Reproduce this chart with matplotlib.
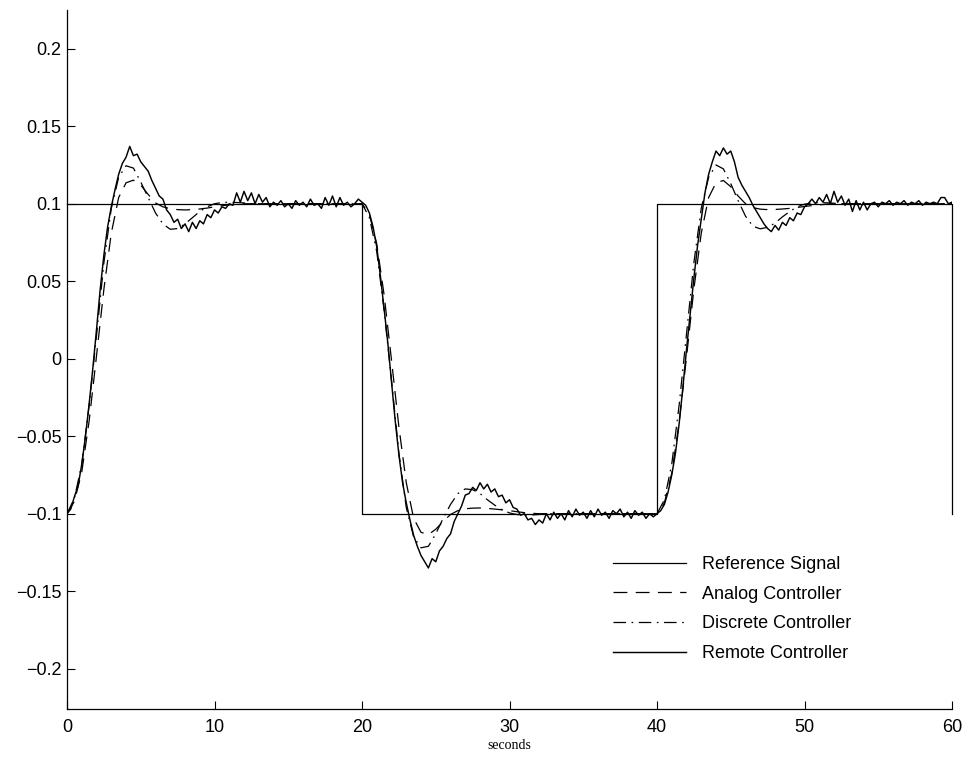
import numpy as np
import matplotlib
matplotlib.use("Agg")
import matplotlib.pyplot as plt

# Reference square wave (corner points)
REF_T = [0, 20, 20, 40, 40, 60, 60]
REF_Y = [0.1, 0.1, -0.1, -0.1, 0.1, 0.1, -0.1]

# Smooth responses, sampled every 0.5 s from each segment start (40 values per segment)
ANALOG_1 = [-0.100, -0.092, -0.073, -0.040, 0.002, 0.045, 0.081, 0.104, 0.1135, 0.1152,
            0.112, 0.106, 0.1005, 0.098, 0.0968, 0.0962, 0.0960, 0.0962, 0.0966, 0.0972,
            0.0980, 0.0987, 0.0993, 0.0997, 0.100, 0.100, 0.100, 0.100, 0.100, 0.100,
            0.100, 0.100, 0.100, 0.100, 0.100, 0.100, 0.100, 0.100, 0.100, 0.100]
ANALOG_2 = [0.100, 0.093, 0.074, 0.041, -0.001, -0.044, -0.080, -0.103, -0.112, -0.1135,
            -0.110, -0.105, -0.1005, -0.098, -0.0968, -0.0964, -0.0963, -0.0966, -0.0970, -0.0975,
            -0.0980, -0.0987, -0.0993, -0.0997, -0.100, -0.100, -0.100, -0.100, -0.100, -0.100,
            -0.100, -0.100, -0.100, -0.100, -0.100, -0.100, -0.100, -0.100, -0.100, -0.100]
ANALOG_3 = [-0.100, -0.093, -0.074, -0.041, 0.001, 0.045, 0.081, 0.104, 0.1135, 0.115,
            0.111, 0.105, 0.100, 0.0975, 0.0965, 0.0962, 0.0963, 0.0966, 0.0970, 0.0976,
            0.0982, 0.0988, 0.0993, 0.0997, 0.100, 0.100, 0.100, 0.100, 0.100, 0.100,
            0.100, 0.100, 0.100, 0.100, 0.100, 0.100, 0.100, 0.100, 0.100, 0.100]
ANALOG_END = 0.100

DISCRETE_1 = [-0.100, -0.090, -0.068, -0.030, 0.015, 0.062, 0.097, 0.117, 0.1245, 0.123,
              0.114, 0.104, 0.094, 0.087, 0.0835, 0.084, 0.087, 0.091, 0.095, 0.098,
              0.100, 0.1008, 0.101, 0.1008, 0.1005, 0.100, 0.100, 0.100, 0.100, 0.100,
              0.100, 0.100, 0.100, 0.100, 0.100, 0.100, 0.100, 0.100, 0.100, 0.100]
DISCRETE_2 = [0.100, 0.091, 0.069, 0.031, -0.014, -0.061, -0.096, -0.115, -0.122, -0.121,
              -0.113, -0.103, -0.094, -0.087, -0.084, -0.0845, -0.087, -0.091, -0.0945, -0.0975,
              -0.0995, -0.1005, -0.101, -0.1008, -0.1005, -0.100, -0.100, -0.100, -0.100, -0.100,
              -0.100, -0.100, -0.100, -0.100, -0.100, -0.100, -0.100, -0.100, -0.100, -0.100]
DISCRETE_3 = [-0.100, -0.091, -0.068, -0.030, 0.016, 0.062, 0.097, 0.117, 0.125, 0.1225,
              0.113, 0.102, 0.092, 0.0855, 0.0838, 0.0848, 0.0875, 0.0915, 0.095, 0.098,
              0.0997, 0.1005, 0.1008, 0.1006, 0.1003, 0.100, 0.100, 0.100, 0.100, 0.100,
              0.100, 0.100, 0.100, 0.100, 0.100, 0.100, 0.100, 0.100, 0.100, 0.100]
DISCRETE_END = 0.100

# Noisy remote response, sampled every 0.25 s from each segment start (80 values per segment)
REMOTE_1 = [-0.100, -0.097, -0.089, -0.082, -0.068, -0.050, -0.029, -0.006,
            0.019, 0.045, 0.067, 0.085, 0.098, 0.109, 0.119, 0.126,
            0.130, 0.137, 0.131, 0.132, 0.127, 0.124, 0.121, 0.115,
            0.110, 0.105, 0.103, 0.096, 0.093, 0.088, 0.090, 0.084,
            0.087, 0.082, 0.088, 0.084, 0.089, 0.087, 0.093, 0.091,
            0.096, 0.094, 0.098, 0.097, 0.100, 0.099, 0.107, 0.101,
            0.108, 0.102, 0.107, 0.100, 0.106, 0.101, 0.104, 0.098,
            0.101, 0.099, 0.102, 0.098, 0.100, 0.097, 0.102, 0.099,
            0.101, 0.098, 0.103, 0.099, 0.100, 0.097, 0.104, 0.099,
            0.105, 0.098, 0.104, 0.099, 0.101, 0.098, 0.100, 0.103]
REMOTE_2 = [0.101, 0.099, 0.094, 0.085, 0.072, 0.053, 0.032, 0.010,
            -0.015, -0.040, -0.062, -0.080, -0.093, -0.104, -0.114, -0.121,
            -0.127, -0.131, -0.135, -0.129, -0.131, -0.124, -0.121, -0.116,
            -0.113, -0.105, -0.100, -0.095, -0.088, -0.087, -0.083, -0.085,
            -0.080, -0.084, -0.081, -0.086, -0.084, -0.089, -0.088, -0.093,
            -0.091, -0.096, -0.097, -0.101, -0.100, -0.104, -0.103, -0.107,
            -0.104, -0.106, -0.100, -0.104, -0.099, -0.103, -0.100, -0.104,
            -0.098, -0.102, -0.097, -0.101, -0.099, -0.103, -0.098, -0.102,
            -0.097, -0.101, -0.099, -0.103, -0.098, -0.100, -0.097, -0.102,
            -0.099, -0.103, -0.098, -0.101, -0.099, -0.103, -0.100, -0.102]
REMOTE_3 = [-0.100, -0.098, -0.094, -0.086, -0.075, -0.061, -0.042, -0.019,
            0.006, 0.029, 0.052, 0.073, 0.090, 0.107, 0.119, 0.127,
            0.134, 0.131, 0.136, 0.132, 0.134, 0.127, 0.117, 0.112,
            0.108, 0.104, 0.099, 0.095, 0.091, 0.087, 0.084, 0.082,
            0.086, 0.083, 0.088, 0.086, 0.091, 0.089, 0.094, 0.093,
            0.098, 0.100, 0.103, 0.100, 0.104, 0.101, 0.106, 0.100,
            0.108, 0.101, 0.105, 0.099, 0.103, 0.095, 0.102, 0.096,
            0.101, 0.096, 0.100, 0.101, 0.098, 0.101, 0.100, 0.102,
            0.099, 0.101, 0.100, 0.102, 0.099, 0.101, 0.100, 0.102,
            0.099, 0.101, 0.100, 0.101, 0.100, 0.104, 0.104, 0.100]
REMOTE_END = 0.101

X_TICKS = [0, 10, 20, 30, 40, 50, 60]
Y_TICKS = [-0.2, -0.15, -0.1, -0.05, 0, 0.05, 0.1, 0.15, 0.2]
Y_TICK_LABELS = ["\u22120.2", "\u22120.15", "\u22120.1", "\u22120.05", "0",
                 "0.05", "0.1", "0.15", "0.2"]

analog = np.array(ANALOG_1 + ANALOG_2 + ANALOG_3 + [ANALOG_END])
discrete = np.array(DISCRETE_1 + DISCRETE_2 + DISCRETE_3 + [DISCRETE_END])
remote = np.array(REMOTE_1 + REMOTE_2 + REMOTE_3 + [REMOTE_END])
t_smooth = np.arange(len(analog)) * 0.5
t_remote = np.arange(len(remote)) * 0.25

plt.rcParams["font.family"] = ["Liberation Sans", "DejaVu Sans"]
plt.rcParams["font.size"] = 13
plt.rcParams["lines.scale_dashes"] = False

fig = plt.figure(figsize=(9.66, 7.57), dpi=100)
ax = fig.add_axes([0.0694, 0.0634, 0.9161, 0.9234])

lw = 0.9
ax.plot(REF_T, REF_Y, color="black", lw=lw, label="Reference Signal", clip_on=False)
ax.plot(t_smooth, analog, color="black", lw=lw, dashes=(10, 6), label="Analog Controller")
ax.plot(t_smooth, discrete, color="black", lw=lw, dashes=(9, 4, 1.2, 4), label="Discrete Controller")
ax.plot(t_remote, remote, color="black", lw=1.05, label="Remote Controller")

ax.set_xlim(0, 60)
ax.set_ylim(-0.226, 0.225)
ax.set_xticks(X_TICKS)
ax.set_xticklabels([str(v) for v in X_TICKS])
ax.set_yticks(Y_TICKS)
ax.set_yticklabels(Y_TICK_LABELS)
ax.tick_params(direction="in", length=6, width=0.8, colors="black")
ax.tick_params(axis="y", pad=4)
ax.tick_params(axis="x", pad=7)
for side in ("top", "right"):
    ax.spines[side].set_visible(False)
for side in ("left", "bottom"):
    ax.spines[side].set_linewidth(0.9)

ax.set_xlabel("seconds", family=["Liberation Serif", "DejaVu Serif"], fontsize=10, labelpad=2)

ax.legend(loc="upper left", bbox_to_anchor=(0.617, 0.219), frameon=False,
          handlelength=4.05, handletextpad=0.9, labelspacing=0.70,
          borderpad=0, borderaxespad=0, fontsize=13)

fig.savefig("out.png", dpi=100)
